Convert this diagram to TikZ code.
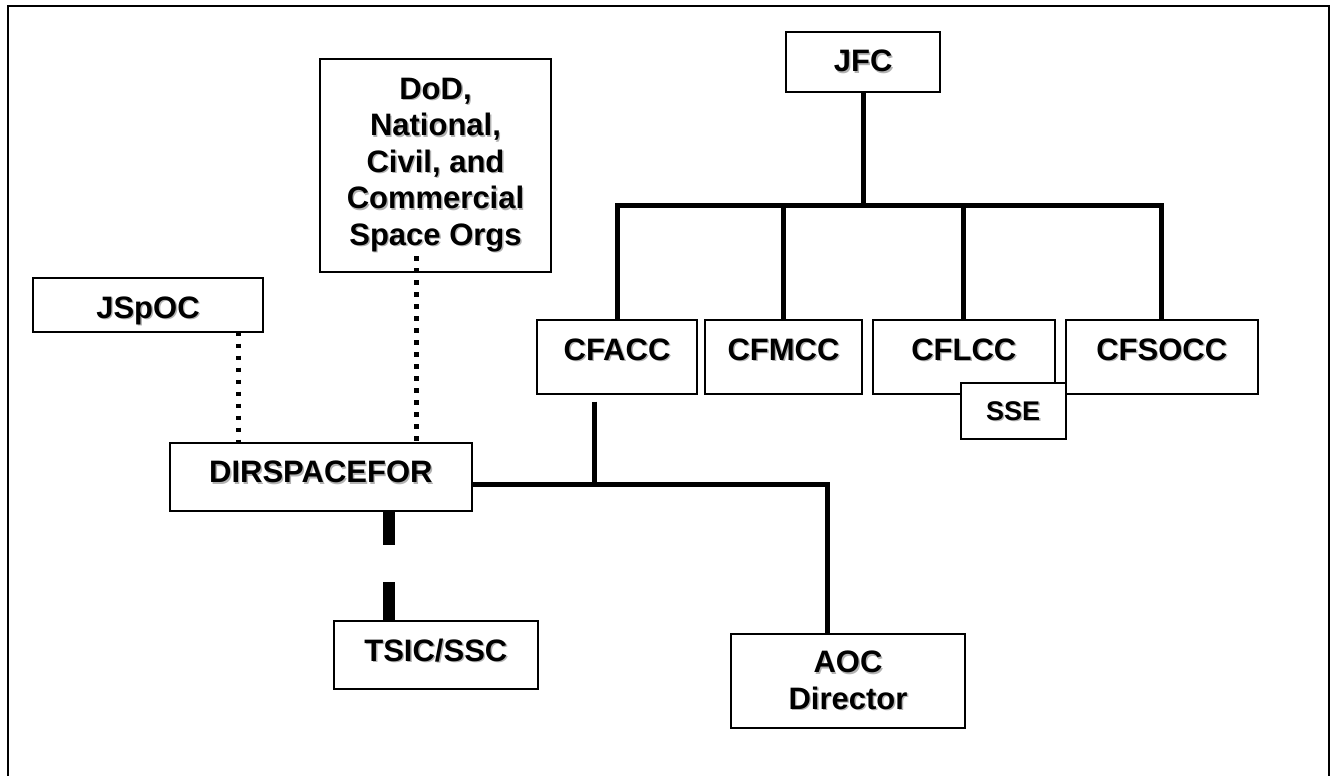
\documentclass[tikz,border=0pt]{standalone}
\usepackage{fontspec}
\setmainfont{Liberation Sans}
\usepackage{tikz}
\usetikzlibrary{positioning}

\newcommand{\shd}[1]{\makebox[0pt][l]{\hspace{1.4pt}\raisebox{-1.4pt}{\textcolor{black!30}{#1}}}#1}

\begin{document}
\begin{tikzpicture}[x=1pt, y=-1pt,
    box/.style={draw, line width=1.8pt, fill=white, inner sep=0pt, outer sep=0pt,
        font=\bfseries\fontsize{31}{36.6}\selectfont},
    onebox/.style={box, text height=40pt},
    link/.style={line width=5pt},
    dotlink/.style={line width=4.7pt, dash pattern=on 4.7pt off 7.3pt},
    dashlink/.style={line width=11.7pt, dash pattern=on 34pt off 37pt on 40pt off 10pt}]
    \useasboundingbox (0,0) rectangle (1336,776);
    \draw[line width=2pt] (7.5,6) rectangle (1329,776.8);

    \node[onebox, minimum width=153.8pt, text depth=20pt, anchor=north] (jfc) at (863.2,32) {\shd{JFC}};
    \node[onebox, minimum width=160pt, text depth=34pt, anchor=north] (cfacc) at (617,320) {\shd{CFACC}};
    \node[onebox, minimum width=156.4pt, text depth=34pt, right=8.3pt of cfacc] (cfmcc) {\shd{CFMCC}};
    \node[onebox, minimum width=182.3pt, text depth=34pt, right=11pt of cfmcc] (cflcc) {\shd{CFLCC}};
    \node[onebox, minimum width=192pt, text depth=34pt, right=10.7pt of cflcc] (cfsocc) {\shd{CFSOCC}};
    \node[onebox, font=\bfseries\fontsize{27}{32}\selectfont, text height=36.7pt, text depth=19.3pt,
        minimum width=105pt, anchor=north east] (sse) at ([yshift=10.7pt]cfsocc.south west) {\shd{SSE}};

    \node[box, align=center, minimum width=231pt, minimum height=212.7pt] (dod) at (435.5,165.65)
        {\shd{DoD,}\\\shd{National,}\\\shd{Civil, and}\\\shd{Commercial}\\\shd{Space Orgs}};
    \node[onebox, minimum width=230.6pt, text depth=13.4pt, anchor=north] (jspoc) at (148,278.3) {\shd{JSpOC}};
    \node[onebox, minimum width=301.7pt, text depth=28.3pt, anchor=north] (dirspace) at (320.85,442.7) {\shd{DIRSPACEFOR}};
    \node[onebox, minimum width=203.7pt, text height=40.3pt, text depth=28.3pt, anchor=north] (tsic) at (435.85,620.7) {\shd{TSIC/SSC}};
    \node[box, align=center, minimum width=234pt, minimum height=94.3pt] (aoc) at (848,681.15) {\shd{AOC}\\\shd{Director}};

    \coordinate (bus) at (0,205.5);
    \draw[link] (jfc.south) -- (jfc.south |- bus);
    \draw[link] (cfacc.north) |- (cfsocc.north |- bus) -- (cfsocc.north);
    \draw[link] (cfmcc.north) -- (cfmcc.north |- bus);
    \draw[link] (cflcc.north) -- (cflcc.north |- bus);

    \coordinate (tap) at ([xshift=-22.5pt, yshift=-7.7pt]cfacc.south);
    \coordinate (hline) at ([yshift=-7.15pt]dirspace.east);
    \draw[link] (tap) -- (tap |- hline);
    \draw[link] (hline) -| ([xshift=-21pt]aoc.north);

    \coordinate (j1) at ([xshift=90.3pt]jspoc.south);
    \coordinate (d1) at ([xshift=-19pt, yshift=16pt]dod.south);
    \coordinate (t1) at ([xshift=68.15pt]dirspace.south);
    \draw[dotlink] (j1) -- (j1 |- dirspace.north);
    \draw[dotlink] (d1) -- (d1 |- dirspace.north);
    \draw[dashlink] (t1) -- (t1 |- tsic.north);
\end{tikzpicture}
\end{document}
